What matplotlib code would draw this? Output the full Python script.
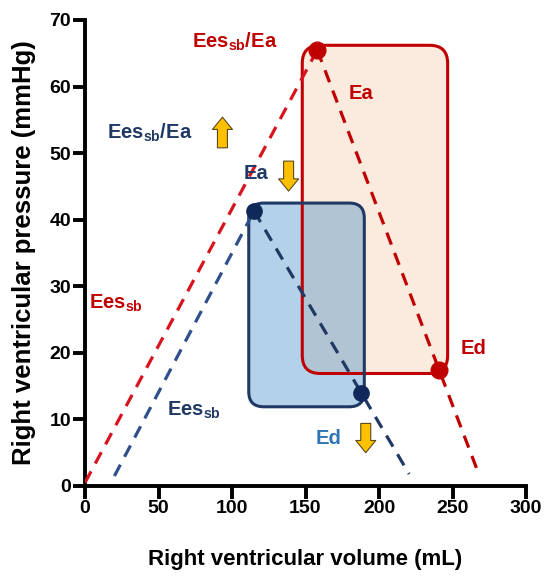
#!/usr/bin/env python3
"""RV pressure-volume schematic: two loops with Ees/Ea/Ed lines."""

import matplotlib
matplotlib.use("Agg")
import matplotlib.pyplot as plt
from matplotlib.patches import FancyBboxPatch, FancyArrowPatch

plt.rcParams["font.family"] = ["Liberation Sans", "DejaVu Sans"]
plt.rcParams["font.weight"] = "bold"
plt.rcParams["mathtext.fontset"] = "custom"
plt.rcParams["mathtext.rm"] = "Liberation Sans:bold"
plt.rcParams["mathtext.bf"] = "Liberation Sans:bold"
plt.rcParams["mathtext.it"] = "Liberation Sans:bold"

RED = "#c00000"
NAVY = "#1f3864"
LIGHT_BLUE = "#2e75b6"
GOLD = "#ffc000"

# red loop (before)
red_ees_vol = [0, 158]
red_ees_p = [0.5, 65.5]
red_ea_vol = [158, 267]
red_ea_p = [65.5, 2.3]
red_pts_vol = [158, 241]
red_pts_p = [65.5, 17.4]
red_box_vol = [147.8, 246.7]
red_box_p = [16.9, 66.2]

# blue loop (after)
blue_ees_vol = [20, 115]
blue_ees_p = [1.5, 41.3]
blue_ea_vol = [115, 220.5]
blue_ea_p = [41.3, 1.8]
blue_pts_vol = [115, 187.6]
blue_pts_p = [41.3, 13.9]
blue_box_vol = [111.4, 190.0]
blue_box_p = [11.9, 42.5]

x_ticks = [0, 50, 100, 150, 200, 250, 300]
y_ticks = [0, 10, 20, 30, 40, 50, 60, 70]

W, H = 546, 580
fig = plt.figure(figsize=(W / 100, H / 100), dpi=100)
ax = fig.add_axes([85 / W, 1 - 486 / H, (526 - 85) / W, (486 - 20) / H])
ax.set_xlim(0, 300)
ax.set_ylim(0, 70)

# px per data unit, used to keep the box corners circular
px_x = (526 - 85) / 300
px_y = (486 - 20) / 70


def box_patch(vol, p, radius_px, **kw):
    return FancyBboxPatch(
        (vol[0], p[0]), vol[1] - vol[0], p[1] - p[0],
        boxstyle=f"round,pad=0,rounding_size={radius_px / px_x}",
        mutation_aspect=px_x / px_y, **kw,
    )


# fills first, then both outlines on top of them
ax.add_patch(box_patch(red_box_vol, red_box_p, 18, facecolor="#fbe5d6",
                       edgecolor="none", alpha=0.8, zorder=1))
ax.add_patch(box_patch(blue_box_vol, blue_box_p, 15, facecolor="#1475bd",
                       edgecolor="none", alpha=0.32, zorder=2))
ax.add_patch(box_patch(red_box_vol, red_box_p, 18, facecolor="none",
                       edgecolor=RED, linewidth=2.2, zorder=2.5))
ax.add_patch(box_patch(blue_box_vol, blue_box_p, 15, facecolor="none",
                       edgecolor=NAVY, linewidth=2.2, zorder=2.6))

dash = (0, (4, 2.8))
ax.plot(red_ees_vol, red_ees_p, color="#d7141e", lw=2.3, ls=dash, zorder=3)
ax.plot(red_ea_vol, red_ea_p, color=RED, lw=2.3, ls=dash, zorder=3)
ax.plot(blue_ees_vol, blue_ees_p, color="#2f4f8a", lw=2.3, ls=dash, zorder=3)
ax.plot(blue_ea_vol, blue_ea_p, color=NAVY, lw=2.3, ls=dash, zorder=3)
ax.plot(red_pts_vol, red_pts_p, "o", color=RED, ms=12, zorder=4)
ax.plot(blue_pts_vol, blue_pts_p, "o", color="#10285a", ms=11, zorder=4)

fs = 14.5
ax.text(102, 66.7, r"Ees$_{\mathbf{sb}}$/Ea", color=RED, fontsize=fs, ha="center", va="center")
ax.text(188, 59, "Ea", color=RED, fontsize=fs, ha="center", va="center")
ax.text(44, 53, r"Ees$_{\mathbf{sb}}$/Ea", color=NAVY, fontsize=fs, ha="center", va="center")
ax.text(116, 46.9, "Ea", color=NAVY, fontsize=fs, ha="center", va="center")
ax.text(21, 27.4, r"Ees$_{\mathbf{sb}}$", color=RED, fontsize=fs, ha="center", va="center")
ax.text(74, 11.3, r"Ees$_{\mathbf{sb}}$", color=NAVY, fontsize=fs, ha="center", va="center")
ax.text(264, 20.6, "Ed", color=RED, fontsize=fs, ha="center", va="center")
ax.text(166, 7.2, "Ed", color=LIGHT_BLUE, fontsize=fs, ha="center", va="center")

arrow_style = "simple,head_width=0.9,head_length=0.55,tail_width=0.45"


def block_arrow(x, y0, y1):
    arr = FancyArrowPatch(
        (x, y0), (x, y1), arrowstyle=arrow_style, mutation_scale=16,
        facecolor=GOLD, edgecolor="#5a4a1a", linewidth=0.8,
        shrinkA=0, shrinkB=0, zorder=5,
    )
    ax.add_patch(arr)


block_arrow(93.5, 50.8, 55.4)
block_arrow(138.5, 48.8, 44.3)
block_arrow(191, 9.4, 5.0)

for side in ("top", "right"):
    ax.spines[side].set_visible(False)
for side in ("left", "bottom"):
    ax.spines[side].set_linewidth(2.8)
ax.tick_params(width=2.8, length=9, labelsize=14, pad=1)
ax.set_xticks(x_ticks)
ax.set_yticks(y_ticks)
for lab in ax.get_xticklabels() + ax.get_yticklabels():
    lab.set_fontweight("bold")

ax.set_xlabel("Right ventricular volume (mL)", fontsize=16, fontweight="bold")
ax.set_ylabel("Right ventricular pressure (mmHg)", fontsize=18.5, fontweight="bold")
ax.xaxis.set_label_coords(0.5, -0.135)
ax.yaxis.set_label_coords(-0.112, 0.5)

fig.savefig("out.png", dpi=100)
